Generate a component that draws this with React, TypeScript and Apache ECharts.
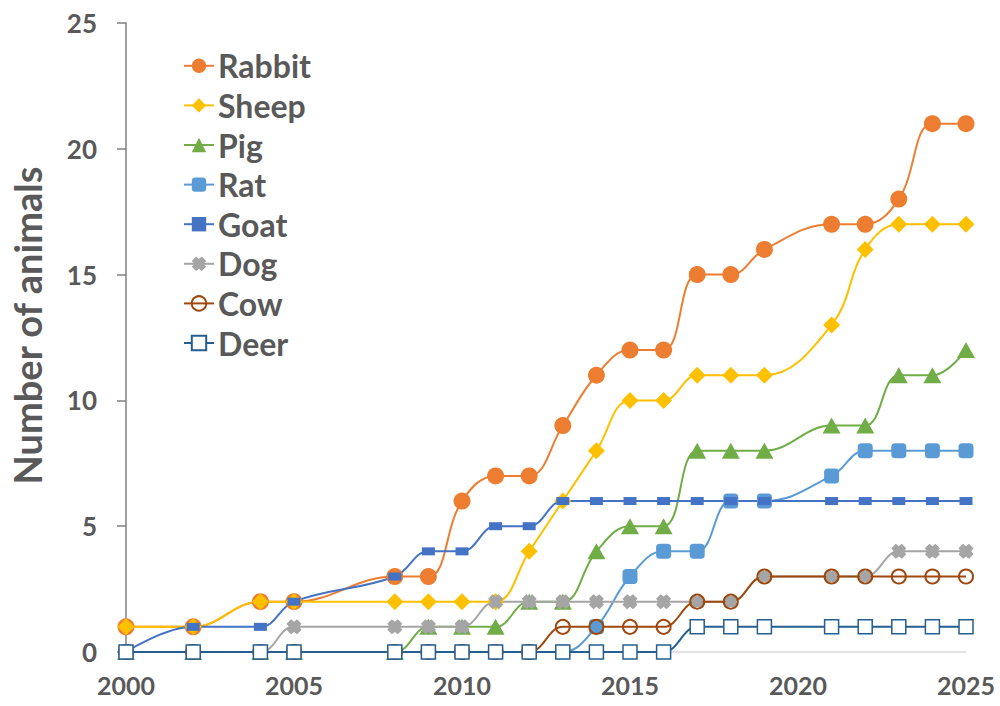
import React, { useEffect, useRef } from "react";
import * as echarts from "echarts";

const years = [2000, 2002, 2004, 2005, 2008, 2009, 2010, 2011, 2012, 2013, 2014, 2015, 2016, 2017, 2018, 2019, 2021, 2022, 2023, 2024, 2025];

const rabbit = [1, 1, 2, 2, 3, 3, 6, 7, 7, 9, 11, 12, 12, 15, 15, 16, 17, 17, 18, 21, 21];
const sheep = [1, 1, 2, 2, 2, 2, 2, 2, 4, 6, 8, 10, 10, 11, 11, 11, 13, 16, 17, 17, 17];
const pig = [0, 0, 0, 0, 0, 1, 1, 1, 2, 2, 4, 5, 5, 8, 8, 8, 9, 9, 11, 11, 12];
const rat = [0, 0, 0, 0, 0, 0, 0, 0, 0, 0, 1, 3, 4, 4, 6, 6, 7, 8, 8, 8, 8];
const goat = [0, 1, 1, 2, 3, 4, 4, 5, 5, 6, 6, 6, 6, 6, 6, 6, 6, 6, 6, 6, 6];
const dog = [0, 0, 0, 1, 1, 1, 1, 2, 2, 2, 2, 2, 2, 2, 2, 3, 3, 3, 4, 4, 4];
const cow = [0, 0, 0, 0, 0, 0, 0, 0, 0, 1, 1, 1, 1, 2, 2, 3, 3, 3, 3, 3, 3];
const deer = [0, 0, 0, 0, 0, 0, 0, 0, 0, 0, 0, 0, 0, 1, 1, 1, 1, 1, 1, 1, 1];

const xTicks = [2000, 2005, 2010, 2015, 2020, 2025];
const yTicks = [0, 5, 10, 15, 20, 25];

const FONT = "Lato";
const TEXT = "#595959";

const dogPath = "path://M3,0 L5,1.6 L7,0 L10,3 L8.4,5 L10,7 L7,10 L5,8.4 L3,10 L0,7 L1.6,5 L0,3 Z";

type Def = {
  name: string;
  values: number[];
  color: string;
  symbol: string;
  size: number | number[];
  fill?: string;
  border?: number;
};

const defs: Def[] = [
  { name: "Rabbit", values: rabbit, color: "#ED7D31", symbol: "circle", size: 17 },
  { name: "Sheep", values: sheep, color: "#FFC000", symbol: "diamond", size: 17 },
  { name: "Pig", values: pig, color: "#70AD47", symbol: "triangle", size: [18, 16] },
  { name: "Rat", values: rat, color: "#5B9BD5", symbol: "roundRect", size: 15 },
  { name: "Goat", values: goat, color: "#4472C4", symbol: "rect", size: [13, 8] },
  { name: "Dog", values: dog, color: "#A5A5A5", symbol: dogPath, size: 15 },
  { name: "Cow", values: cow, color: "#9E480E", symbol: "circle", size: 14, fill: "rgba(0,0,0,0)", border: 2 },
  { name: "Deer", values: deer, color: "#255E91", symbol: "rect", size: 14, fill: "#ffffff", border: 1.5 },
];

export default function App() {
  const ref = useRef<HTMLDivElement>(null);

  useEffect(() => {
    if (!ref.current) return;
    const chart = echarts.init(ref.current, undefined, { renderer: "svg" });
    const series = defs.map((d) => ({
      name: d.name,
      type: "line",
      data: years.map((y, i) => [y, d.values[i]]),
      smooth: 0.4,
      symbol: d.symbol,
      symbolSize: d.size,
      showAllSymbol: true,
      lineStyle: { color: d.color, width: 2 },
      itemStyle: d.fill
        ? { color: d.fill, borderColor: d.color, borderWidth: d.border }
        : { color: d.color },
      emphasis: { disabled: true },
    }));
    chart.setOption({
      animation: false,
      backgroundColor: "#ffffff",
      grid: { left: 121, right: 34, top: 23, bottom: 54 },
      legend: {
        orient: "vertical",
        left: 183,
        top: 46,
        padding: 0,
        itemWidth: 30,
        itemHeight: 18,
        itemGap: 0,
        data: defs.map((d) => d.name),
        textStyle: { fontFamily: FONT, fontWeight: "bold", fontSize: 32, color: TEXT, lineHeight: 39.6, padding: [0, 0, 0, -1] },
      },
      xAxis: {
        type: "value",
        min: 2000,
        max: 2025,
        interval: 5,
        axisLine: { show: true, lineStyle: { color: "#D9D9D9", width: 1.5 } },
        axisTick: { show: false },
        splitLine: { show: false },
        axisLabel: {
          margin: 20,
          fontFamily: FONT,
          fontWeight: "bold",
          fontSize: 25,
          color: TEXT,
          formatter: (v: number) => (xTicks.includes(v) ? String(v) : ""),
        },
      },
      yAxis: {
        type: "value",
        min: 0,
        max: 25,
        interval: 5,
        name: "Number of animals",
        nameLocation: "middle",
        nameGap: 80,
        nameTextStyle: { fontFamily: FONT, fontWeight: "bold", fontSize: 38, color: TEXT, padding: [0, 0, 0, 24] },
        axisLine: { show: true, lineStyle: { color: "#808080", width: 1.5 } },
        axisTick: { show: true, length: 9, lineStyle: { color: "#808080", width: 1.5 } },
        splitLine: { show: false },
        axisLabel: {
          margin: 29,
          fontFamily: FONT,
          fontWeight: "bold",
          fontSize: 26,
          color: TEXT,
          formatter: (v: number) => (yTicks.includes(v) ? String(v) : ""),
        },
      },
      series,
    });
    return () => chart.dispose();
  }, []);

  return <div ref={ref} style={{ position: "absolute", left: 0, top: 0, width: 1000, height: 706 }} />;
}
